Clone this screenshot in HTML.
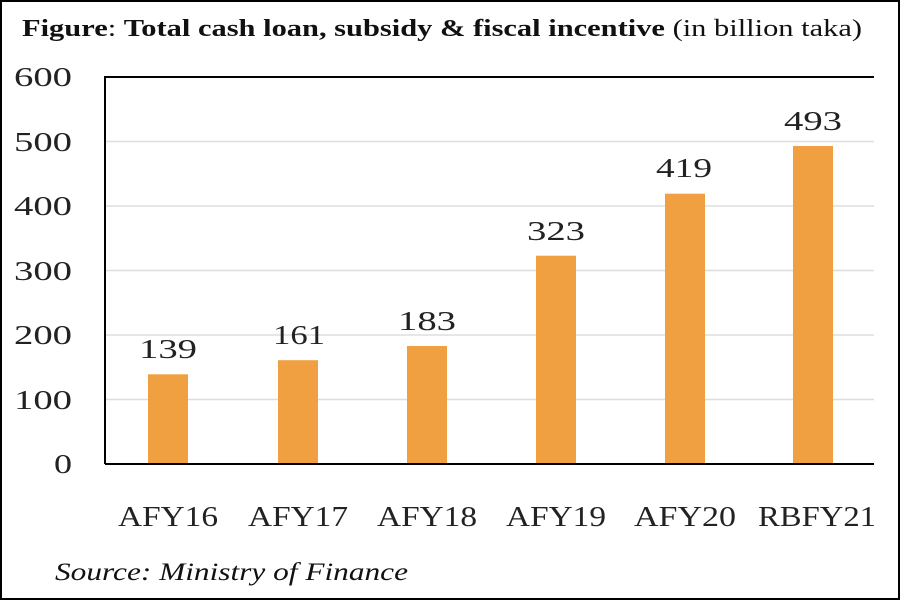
<!DOCTYPE html>
<html><head><style>
body{margin:0;background:#fff}
svg{display:block}
</style></head><body>
<svg width="900" height="600" xmlns="http://www.w3.org/2000/svg" font-family="Liberation Serif, serif">
<rect x="1" y="1" width="898" height="598" fill="#fff" stroke="#000" stroke-width="2"/>
<text x="22" y="36" font-size="24" fill="#111" textLength="840" lengthAdjust="spacingAndGlyphs"><tspan font-weight="bold">Figure</tspan>: <tspan font-weight="bold">Total cash loan, subsidy &amp; fiscal incentive</tspan> (in billion taka)</text>
<g stroke="#ddd" stroke-width="1.5">
<line x1="105" x2="874" y1="141.5" y2="141.5"/>
<line x1="105" x2="874" y1="206" y2="206"/>
<line x1="105" x2="874" y1="270.5" y2="270.5"/>
<line x1="105" x2="874" y1="335" y2="335"/>
<line x1="105" x2="874" y1="399.5" y2="399.5"/>
</g>
<g fill="#F0A040">
<rect x="148" y="374.3" width="40" height="89.7"/>
<rect x="278" y="360.2" width="40" height="103.8"/>
<rect x="407" y="346" width="40" height="118"/>
<rect x="536" y="255.7" width="40" height="208.3"/>
<rect x="665" y="193.7" width="40" height="270.3"/>
<rect x="793" y="146" width="40" height="318"/>
</g>
<path d="M105 464 V77 H874 M105 464 H874" fill="none" stroke="#000" stroke-width="2"/>
<g font-size="27" fill="#222">
<text x="14" y="86" textLength="58" lengthAdjust="spacingAndGlyphs">600</text>
<text x="14" y="151" textLength="58" lengthAdjust="spacingAndGlyphs">500</text>
<text x="14" y="215" textLength="58" lengthAdjust="spacingAndGlyphs">400</text>
<text x="14" y="280" textLength="58" lengthAdjust="spacingAndGlyphs">300</text>
<text x="14" y="344" textLength="58" lengthAdjust="spacingAndGlyphs">200</text>
<text x="14" y="409" textLength="58" lengthAdjust="spacingAndGlyphs">100</text>
<text x="54" y="473" textLength="18" lengthAdjust="spacingAndGlyphs">0</text>
</g>
<g font-size="27" fill="#222">
<text x="139" y="358" textLength="58" lengthAdjust="spacingAndGlyphs">139</text>
<text x="273" y="344" textLength="52" lengthAdjust="spacingAndGlyphs">161</text>
<text x="398" y="330" textLength="58" lengthAdjust="spacingAndGlyphs">183</text>
<text x="527" y="240" textLength="58" lengthAdjust="spacingAndGlyphs">323</text>
<text x="656" y="177" textLength="56" lengthAdjust="spacingAndGlyphs">419</text>
<text x="784" y="130" textLength="58" lengthAdjust="spacingAndGlyphs">493</text>
</g>
<g font-size="29" fill="#222">
<text x="118" y="526" textLength="100" lengthAdjust="spacingAndGlyphs">AFY16</text>
<text x="248" y="526" textLength="100" lengthAdjust="spacingAndGlyphs">AFY17</text>
<text x="377" y="526" textLength="100" lengthAdjust="spacingAndGlyphs">AFY18</text>
<text x="506" y="526" textLength="100" lengthAdjust="spacingAndGlyphs">AFY19</text>
<text x="634" y="526" textLength="102" lengthAdjust="spacingAndGlyphs">AFY20</text>
<text x="758" y="526" textLength="118" lengthAdjust="spacingAndGlyphs">RBFY21</text>
</g>
<text x="55" y="580" font-size="25" font-style="italic" fill="#111" textLength="353" lengthAdjust="spacingAndGlyphs">Source: Ministry of Finance</text>
</svg>
</body></html>
